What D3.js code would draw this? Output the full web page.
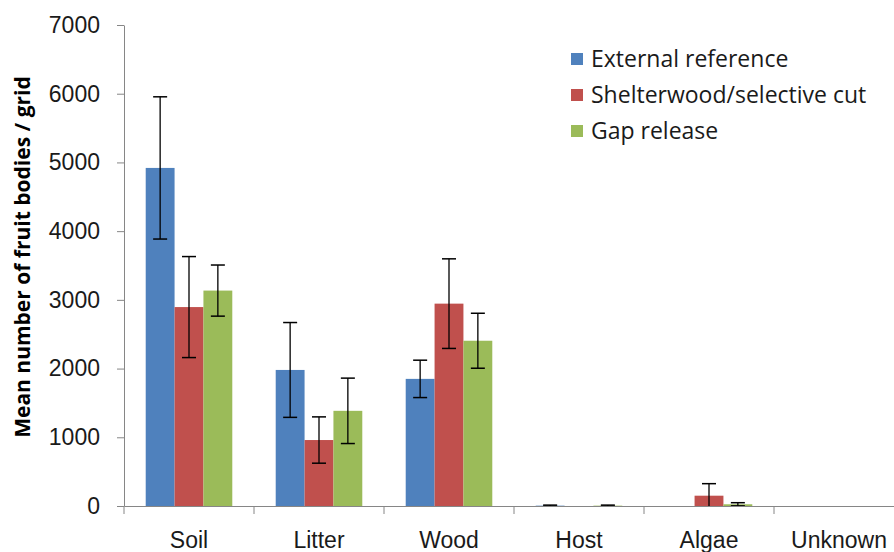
<!DOCTYPE html>
<html>
<head>
<meta charset="utf-8">
<script src="https://cdn.jsdelivr.net/npm/d3@7"></script>
<style>
    body { margin: 0; background: #fff; }
    svg { display: block; font-family: 'Open Sans', sans-serif; }
    .axis path, .axis line { stroke: #868686; }
    .axis text { fill: #1a1a1a; }
</style>
</head>
<body>
<svg id="chart"></svg>
<script>
// Categories and series
const categories = ['Soil', 'Litter', 'Wood', 'Host', 'Algae', 'Unknown'];
const seriesNames = ['External reference', 'Shelterwood/selective cut', 'Gap release'];
const seriesColors = ['#4f81bd', '#c0504d', '#9bbb59'];

// Means and error (+/-) per category
const externalMeans  = [4920, 1980, 1850, 5, 0, 0];
const externalErrors = [1035, 690, 272, 8, 0, 0];
const shelterMeans   = [2895, 960, 2945, 0, 150, 0];
const shelterErrors  = [735, 337, 652, 0, 175, 0];
const gapMeans       = [3135, 1385, 2405, 5, 25, 0];
const gapErrors      = [372, 476, 400, 8, 23, 0];

const yTicks = [0, 1000, 2000, 3000, 4000, 5000, 6000, 7000];

class GroupedBarchart {
    constructor(_config) {
        this.config = {
            parentElement: _config.parentElement,
            containerWidth: _config.containerWidth || 894,
            containerHeight: _config.containerHeight || 552,
            margin: _config.margin || {top: 25, right: -10, bottom: 46, left: 124}
        }
        this.initVis();
    }

    initVis() {
        let vis = this;
        vis.width = vis.config.containerWidth - vis.config.margin.left - vis.config.margin.right;
        vis.height = vis.config.containerHeight - vis.config.margin.top - vis.config.margin.bottom;

        vis.yScale = d3.scaleLinear()
            .domain([0, 7000])
            .range([vis.height, 0]);

        vis.xScale = d3.scaleBand()
            .domain(categories)
            .range([0, vis.width])
            .paddingInner(0);

        // bars inside one category band
        vis.xInner = d3.scaleBand()
            .domain(seriesNames)
            .range([vis.xScale.bandwidth() * 0.167, vis.xScale.bandwidth() * 0.833]);

        vis.svg = d3.select(vis.config.parentElement)
            .attr('width', vis.config.containerWidth)
            .attr('height', vis.config.containerHeight);

        vis.chart = vis.svg.append('g')
            .attr('transform', `translate(${vis.config.margin.left},${vis.config.margin.top})`);

        // clip error bars to the plot area, like Excel does
        vis.svg.append('clipPath')
            .attr('id', 'plot-clip')
            .append('rect')
            .attr('x', 0)
            .attr('y', -20)
            .attr('width', vis.width)
            .attr('height', vis.height + 20);

        vis.yAxis = d3.axisLeft(vis.yScale)
            .tickValues(yTicks)
            .tickFormat(d3.format('d'))
            .tickSize(7)
            .tickPadding(17)
            .tickSizeOuter(0);

        vis.xAxis = d3.axisBottom(vis.xScale)
            .tickSize(0)
            .tickPadding(26)
            .tickSizeOuter(0);

        // Y-Axis Label
        vis.svg.append('text')
            .attr('transform', 'rotate(-90)')
            .attr('x', -257)
            .attr('y', 30)
            .style('text-anchor', 'middle')
            .style('font-size', '21px')
            .style('font-weight', 'bold')
            .text('Mean number of fruit bodies / grid');

        vis.renderVis();
    }

    renderVis() {
        let vis = this;

        const series = [
            {name: seriesNames[0], means: externalMeans, errors: externalErrors, color: seriesColors[0]},
            {name: seriesNames[1], means: shelterMeans, errors: shelterErrors, color: seriesColors[1]},
            {name: seriesNames[2], means: gapMeans, errors: gapErrors, color: seriesColors[2]}
        ];
        const flat = [];
        series.forEach(s => {
            categories.forEach((c, i) => {
                flat.push({category: c, series: s.name, color: s.color, mean: s.means[i], err: s.errors[i]});
            });
        });

        const barX = d => vis.xScale(d.category) + vis.xInner(d.series);
        const barCx = d => barX(d) + vis.xInner.bandwidth() / 2;

        vis.chart.selectAll('.bar')
            .data(flat.filter(d => d.mean > 0))
            .join('rect')
            .attr('class', 'bar')
            .attr('x', barX)
            .attr('width', vis.xInner.bandwidth())
            .attr('y', d => vis.yScale(d.mean))
            .attr('height', d => vis.height - vis.yScale(d.mean))
            .attr('fill', d => d.color);

        // Error bars
        const errG = vis.chart.append('g').attr('clip-path', 'url(#plot-clip)');
        const withErr = flat.filter(d => d.err > 0);
        const capHalf = 7;

        errG.selectAll('.err-stem')
            .data(withErr)
            .join('line')
            .attr('class', 'err-stem')
            .attr('x1', barCx).attr('x2', barCx)
            .attr('y1', d => vis.yScale(d.mean + d.err))
            .attr('y2', d => vis.yScale(d.mean - d.err))
            .attr('stroke', '#000')
            .attr('stroke-width', 1.3);

        errG.selectAll('.err-cap')
            .data(withErr.flatMap(d => [{d: d, v: d.mean + d.err}, {d: d, v: d.mean - d.err}]))
            .join('line')
            .attr('class', 'err-cap')
            .attr('x1', e => barCx(e.d) - capHalf).attr('x2', e => barCx(e.d) + capHalf)
            .attr('y1', e => vis.yScale(e.v)).attr('y2', e => vis.yScale(e.v))
            .attr('stroke', '#000')
            .attr('stroke-width', 1.5);

        // Axes
        vis.yAxisG = vis.chart.append('g')
            .attr('class', 'axis y-axis')
            .call(vis.yAxis);
        vis.yAxisG.selectAll('text').style('font-size', '23px');

        vis.xAxisG = vis.chart.append('g')
            .attr('class', 'axis x-axis')
            .attr('transform', `translate(0,${vis.height})`)
            .call(vis.xAxis);
        vis.xAxisG.selectAll('text').style('font-size', '23px');

        // category boundary ticks
        const bounds = categories.map(c => vis.xScale(c)).concat([vis.width]);
        vis.xAxisG.selectAll('.bound-tick')
            .data(bounds)
            .join('line')
            .attr('class', 'bound-tick')
            .attr('x1', d => d).attr('x2', d => d)
            .attr('y1', 0).attr('y2', 8)
            .attr('stroke', '#868686');

        // Legend
        const legend = vis.svg.append('g')
            .attr('transform', 'translate(571,59)');
        const rows = legend.selectAll('.legend-row')
            .data(series)
            .join('g')
            .attr('class', 'legend-row')
            .attr('transform', (d, i) => `translate(0,${i * 36})`);
        rows.append('rect')
            .attr('y', -6)
            .attr('width', 12)
            .attr('height', 12)
            .attr('fill', d => d.color);
        rows.append('text')
            .attr('x', 20)
            .attr('dy', '0.35em')
            .style('font-size', '23px')
            .style('fill', '#1a1a1a')
            .text(d => d.name);
    }
}

new GroupedBarchart({parentElement: '#chart'});
</script>
</body>
</html>
